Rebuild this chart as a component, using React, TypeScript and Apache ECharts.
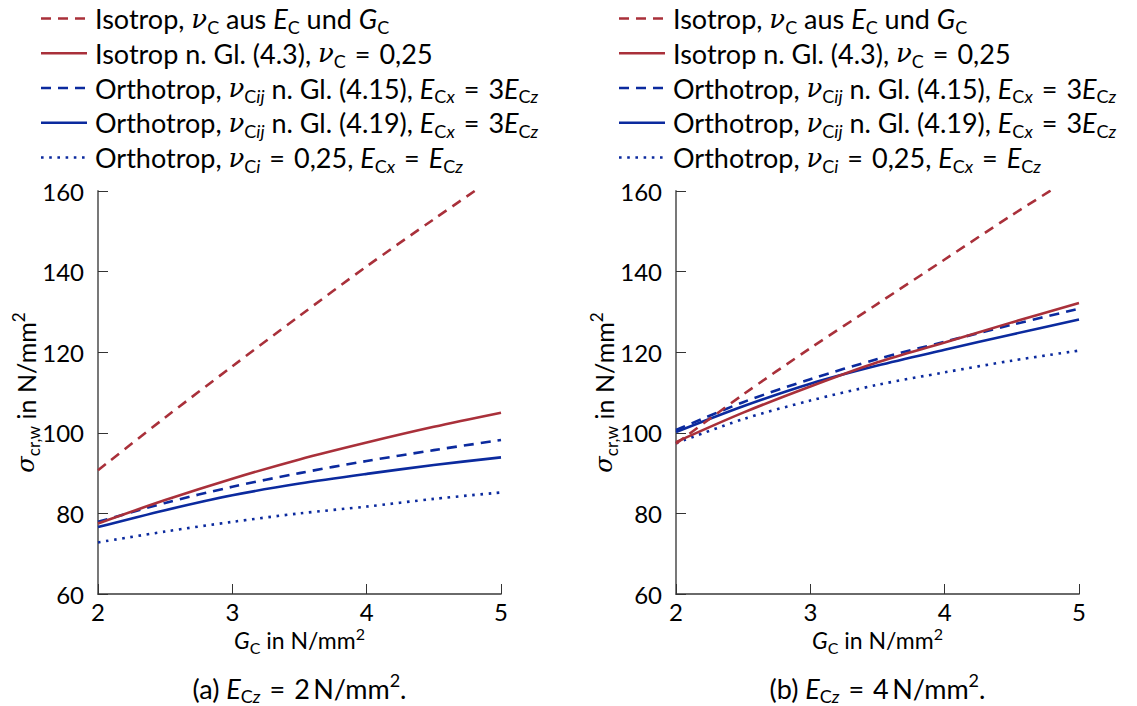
import React, { useEffect, useRef } from 'react';
import * as echarts from 'echarts';

// ---- data ----
const xs = [2, 2.5, 3, 3.5, 4, 4.5, 5];

// panel (a) E_Cz = 2 N/mm²
const isoDashedA = [90.7, 103.8, 116.5, 129.0, 141.3, 153.0, 164.5];
const isoSolidA = [77.5, 83.3, 88.6, 93.4, 97.6, 101.5, 105.0];
const orthoDashedA = [77.9, 82.6, 86.6, 90.0, 93.0, 95.7, 98.2];
const orthoSolidA = [76.6, 80.8, 84.5, 87.4, 89.8, 92.0, 93.9];
const orthoDottedA = [72.8, 75.5, 77.9, 80.0, 81.7, 83.6, 85.2];

// panel (b) E_Cz = 4 N/mm²
const isoDashedB = [97.3, 109.5, 121.0, 132.0, 143.0, 154.0, 164.5];
const isoSolidB = [97.7, 105.0, 111.5, 117.5, 122.4, 127.4, 132.2];
const orthoDashedB = [100.7, 107.6, 113.3, 118.3, 122.6, 126.8, 130.8];
const orthoSolidB = [100.2, 106.6, 112.2, 116.7, 120.6, 124.4, 128.1];
const orthoDottedB = [97.4, 103.4, 108.0, 111.9, 115.0, 117.9, 120.4];

const yMin = 60;
const yMax = 160;
const yStep = 20;
const xMin = 2;
const xMax = 5;
const xStep = 1;

const EQ = '\u2004=\u2004';
const legendTexts = [
  '{n|Isotrop, }{m|ν}{s|C}{n| aus }{i|E}{s|C}{n| und }{i|G}{s|C}',
  `{n|Isotrop n. Gl. (4.3), }{m|ν}{s|C}{n|${EQ}0,25}`,
  `{n|Orthotrop, }{m|ν}{s|C}{si|ij}{n| n. Gl. (4.15), }{i|E}{s|C}{si|x}{n|${EQ}3}{i|E}{s|C}{si|z}`,
  `{n|Orthotrop, }{m|ν}{s|C}{si|ij}{n| n. Gl. (4.19), }{i|E}{s|C}{si|x}{n|${EQ}3}{i|E}{s|C}{si|z}`,
  `{n|Orthotrop, }{m|ν}{s|C}{si|i}{n|${EQ}0,25, }{i|E}{s|C}{si|x}{n|${EQ}}{i|E}{s|C}{si|z}`,
];
const seriesNames = [
  'Isotrop, νC aus EC und GC',
  'Isotrop n. Gl. (4.3), νC = 0,25',
  'Orthotrop, νCij n. Gl. (4.15), ECx = 3ECz',
  'Orthotrop, νCij n. Gl. (4.19), ECx = 3ECz',
  'Orthotrop, νCi = 0,25, ECx = ECz',
];
const captions = [
  `{n|(a) }{i|E}{s|C}{si|z}{n|${EQ}2\u2009N/mm}{sup|2}{n|.}`,
  `{n|(b) }{i|E}{s|C}{si|z}{n|${EQ}4\u2009N/mm}{sup|2}{n|.}`,
];
const xName = '{i2|G}{s2|C}{n2| in N/mm}{sup2|2}';
const yName = '{m3|σ}{s3|cr,w}{n3| in N/mm}{sup3|2}';

const RED = '#a9303a';
const BLUE = '#0b2a9e';
const FONT = 'Lato';

const styles = [
  { color: RED, dash: [10, 7] as number[] | 'solid' },
  { color: RED, dash: 'solid' as number[] | 'solid' },
  { color: BLUE, dash: [10, 7] as number[] | 'solid' },
  { color: BLUE, dash: 'solid' as number[] | 'solid' },
  { color: BLUE, dash: [2.6, 5.6] as number[] | 'solid' },
];

const rich: any = {
  n: { fontFamily: FONT, fontSize: 27, lineHeight: 34, fill: '#000' },
  i: { fontFamily: FONT, fontSize: 27, fontStyle: 'italic', lineHeight: 34, fill: '#000' },
  m: { fontFamily: 'DejaVu Serif', fontSize: 26, fontStyle: 'italic', lineHeight: 34, fill: '#000' },
  s: { fontFamily: FONT, fontSize: 18, lineHeight: 17, verticalAlign: 'bottom', fill: '#000' },
  si: { fontFamily: FONT, fontSize: 18, fontStyle: 'italic', lineHeight: 17, verticalAlign: 'bottom', fill: '#000' },
  sup: { fontFamily: FONT, fontSize: 18, lineHeight: 21, verticalAlign: 'top', fill: '#000' },
  n2: { fontFamily: FONT, fontSize: 23, lineHeight: 30, fill: '#000' },
  i2: { fontFamily: FONT, fontSize: 23, fontStyle: 'italic', lineHeight: 30, fill: '#000' },
  s2: { fontFamily: FONT, fontSize: 16, lineHeight: 17, verticalAlign: 'bottom', fill: '#000' },
  sup2: { fontFamily: FONT, fontSize: 16, lineHeight: 19, verticalAlign: 'top', fill: '#000' },
  n3: { fontFamily: FONT, fontSize: 25, lineHeight: 32, fill: '#000' },
  m3: { fontFamily: 'DejaVu Serif', fontSize: 24, fontStyle: 'italic', lineHeight: 32, fill: '#000' },
  s3: { fontFamily: FONT, fontSize: 17, lineHeight: 18, verticalAlign: 'bottom', fill: '#000' },
  sup3: { fontFamily: FONT, fontSize: 17, lineHeight: 20, verticalAlign: 'top', fill: '#000' },
};

const panels = [
  { left: 98, data: [isoDashedA, isoSolidA, orthoDashedA, orthoSolidA, orthoDottedA] },
  { left: 676, data: [isoDashedB, isoSolidB, orthoDashedB, orthoSolidB, orthoDottedB] },
];
const GRID_TOP = 191;
const GRID_SIZE = 403;

export default function App() {
  const ref = useRef<HTMLDivElement>(null);
  useEffect(() => {
    document.body.style.margin = '0';
    if (!ref.current) return;
    const chart = echarts.init(ref.current, null, { renderer: 'svg' });

    const grids = panels.map((p) => ({ left: p.left, top: GRID_TOP, width: GRID_SIZE, height: GRID_SIZE }));
    const axisLine = { show: true, lineStyle: { color: '#6a6a6a', width: 1.8 } };
    const axisTick = { show: true, inside: true, length: 10, lineStyle: { color: '#333', width: 1 } };
    const labelStyle = { color: '#000', fontFamily: FONT, fontSize: 24 };

    const xAxis = panels.map((_, gi) => ({
      type: 'value', gridIndex: gi, min: xMin, max: xMax, interval: xStep,
      axisLine, axisTick, splitLine: { show: false },
      axisLabel: { ...labelStyle, margin: 5 },
    }));
    const yAxis = panels.map((_, gi) => ({
      type: 'value', gridIndex: gi, min: yMin, max: yMax, interval: yStep,
      axisLine, axisTick, splitLine: { show: false },
      axisLabel: { ...labelStyle, margin: 14 },
    }));

    const series: any[] = [];
    panels.forEach((p, gi) => {
      p.data.forEach((vals, si) => {
        series.push({
          type: 'line', name: seriesNames[si], xAxisIndex: gi, yAxisIndex: gi,
          data: xs.map((x, k) => [x, vals[k]]),
          smooth: 0.3, showSymbol: false, symbol: 'none', clip: true,
          lineStyle: { color: styles[si].color, width: 2.6, type: styles[si].dash, cap: 'butt' },
          itemStyle: { color: styles[si].color },
          z: 10 - si,
        });
      });
    });

    const graphic: any[] = [];
    panels.forEach((p, gi) => {
      const off = p.left - 98;
      legendTexts.forEach((t, i) => {
        const y = 18.5 + i * 34.75;
        graphic.push({
          type: 'line',
          shape: { x1: 41 + off, y1: y, x2: 87 + off, y2: y },
          style: {
            stroke: styles[i].color, lineWidth: 2.6,
            lineDash: styles[i].dash === 'solid' ? null : styles[i].dash,
          },
        });
        graphic.push({
          type: 'text', x: 95 + off, y: y,
          style: { text: t, rich, align: 'left', verticalAlign: 'middle', fill: '#000', fontFamily: FONT, fontSize: 27 },
        });
      });
      graphic.push({
        type: 'text', x: p.left + GRID_SIZE / 2, y: 640,
        style: { text: xName, rich, align: 'center', verticalAlign: 'middle', fill: '#000', fontFamily: FONT, fontSize: 23 },
      });
      graphic.push({
        type: 'text', x: p.left + GRID_SIZE / 2, y: 688,
        style: { text: captions[gi], rich, align: 'center', verticalAlign: 'middle', fill: '#000', fontFamily: FONT, fontSize: 27 },
      });
      graphic.push({
        type: 'text', x: p.left - 72, y: GRID_TOP + GRID_SIZE / 2, rotation: Math.PI / 2,
        style: { text: yName, rich, align: 'center', verticalAlign: 'middle', fill: '#000', fontFamily: FONT, fontSize: 25 },
      });
    });

    chart.setOption({
      animation: false,
      backgroundColor: '#fff',
      grid: grids,
      xAxis,
      yAxis,
      series,
      graphic,
    });
    return () => chart.dispose();
  }, []);
  return <div ref={ref} style={{ width: 1137, height: 706 }} />;
}
